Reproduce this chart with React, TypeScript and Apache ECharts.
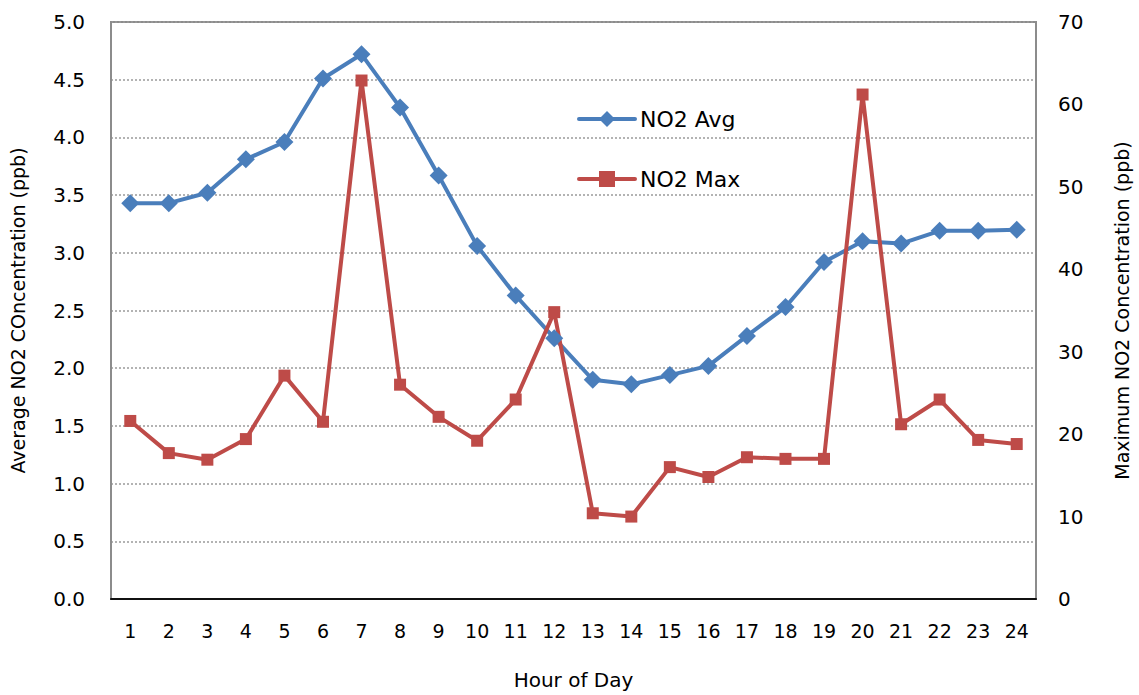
import React, { useEffect, useRef } from "react";
import * as echarts from "echarts";

// Hour of day (x categories)
const hours: string[] = [
  "1", "2", "3", "4", "5", "6", "7", "8", "9", "10", "11", "12",
  "13", "14", "15", "16", "17", "18", "19", "20", "21", "22", "23", "24",
];

// Hourly average NO2 (ppb), left axis
const no2Avg: number[] = [
  3.43, 3.43, 3.52, 3.81, 3.96, 4.51, 4.72, 4.26, 3.67, 3.06, 2.63, 2.26,
  1.90, 1.86, 1.94, 2.02, 2.28, 2.53, 2.92, 3.10, 3.08, 3.19, 3.19, 3.20,
];

// Hourly maximum NO2 (ppb), right axis
const no2Max: number[] = [
  21.6, 17.7, 16.9, 19.4, 27.1, 21.5, 62.9, 26.0, 22.1, 19.2, 24.2, 34.8,
  10.4, 10.0, 16.0, 14.8, 17.2, 17.0, 17.0, 61.2, 21.2, 24.2, 19.3, 18.8,
];

const FONT = "DejaVu Sans";
const BLUE = "#4A7EBB";
const RED = "#BE4B48";

export default function App() {
  const ref = useRef<HTMLDivElement>(null);

  useEffect(() => {
    document.body.style.margin = "0";
    if (!ref.current) return;
    const chart = echarts.init(ref.current, undefined, { renderer: "svg" });
    chart.setOption({
      animation: false,
      backgroundColor: "#ffffff",
      textStyle: { fontFamily: FONT, color: "#000" },
      grid: {
        left: 111,
        right: 103,
        top: 22,
        bottom: 89,
        show: true,
        borderColor: "#8c8c8c",
        borderWidth: 2,
      },
      legend: {
        orient: "vertical",
        left: 572,
        top: 103,
        itemWidth: 56,
        itemHeight: 20,
        itemGap: 38,
        lineStyle: { width: 4 },
        textStyle: { fontFamily: FONT, fontSize: 22, color: "#000" },
        data: ["NO2 Avg", "NO2 Max"],
      },
      xAxis: [
        {
          type: "category",
          data: hours,
          boundaryGap: true,
          name: "Hour of Day",
          nameLocation: "middle",
          nameGap: 71,
          nameTextStyle: { fontFamily: FONT, fontSize: 20, color: "#000" },
          axisLine: { show: true, lineStyle: { color: "#8c8c8c", width: 2 } },
          axisTick: { show: false },
          axisLabel: {
            interval: 0,
            margin: 22,
            fontFamily: FONT,
            fontSize: 19,
            color: "#000",
          },
          splitLine: { show: false },
        },
        {
          type: "category",
          data: hours,
          position: "top",
          axisLine: { show: true, lineStyle: { color: "#111", width: 2 } },
          axisTick: { show: false },
          axisLabel: { show: false },
          splitLine: { show: false },
        },
      ],
      yAxis: [
        {
          type: "value",
          min: 0,
          max: 5,
          interval: 0.5,
          name: "Average NO2 COncentration (ppb)",
          nameLocation: "middle",
          nameGap: 84,
          nameRotate: 90,
          nameTextStyle: { fontFamily: FONT, fontSize: 19, color: "#000" },
          axisLine: { show: true, lineStyle: { color: "#8c8c8c", width: 2 } },
          axisTick: { show: false },
          axisLabel: {
            margin: 26,
            fontFamily: FONT,
            fontSize: 20,
            color: "#000",
            formatter: (v: number) => v.toFixed(1),
          },
          splitLine: {
            show: true,
            lineStyle: { color: "#9a9a9a", width: 1.5, type: [2, 2] },
          },
        },
        {
          type: "value",
          min: 0,
          max: 70,
          interval: 10,
          position: "right",
          name: "Maximum NO2 Concentration (ppb)",
          nameLocation: "middle",
          nameGap: 76,
          nameRotate: 90,
          nameTextStyle: { fontFamily: FONT, fontSize: 19, color: "#000" },
          axisLine: { show: true, lineStyle: { color: "#8c8c8c", width: 2 } },
          axisTick: { show: false },
          axisLabel: {
            margin: 22,
            fontFamily: FONT,
            fontSize: 20,
            color: "#000",
          },
          splitLine: { show: false },
        },
      ],
      series: [
        {
          name: "NO2 Avg",
          type: "line",
          xAxisIndex: 0,
          yAxisIndex: 0,
          data: no2Avg,
          symbol: "diamond",
          symbolSize: 18,
          color: BLUE,
          lineStyle: { color: BLUE, width: 4, cap: "round", join: "round" },
          itemStyle: { color: BLUE },
        },
        {
          name: "NO2 Max",
          type: "line",
          xAxisIndex: 0,
          yAxisIndex: 1,
          data: no2Max,
          symbol: "rect",
          symbolSize: 12,
          color: RED,
          lineStyle: { color: RED, width: 4, cap: "round", join: "round" },
          itemStyle: { color: RED },
        },
      ],
    });
    return () => chart.dispose();
  }, []);

  return <div ref={ref} style={{ width: 1139, height: 695 }} />;
}
